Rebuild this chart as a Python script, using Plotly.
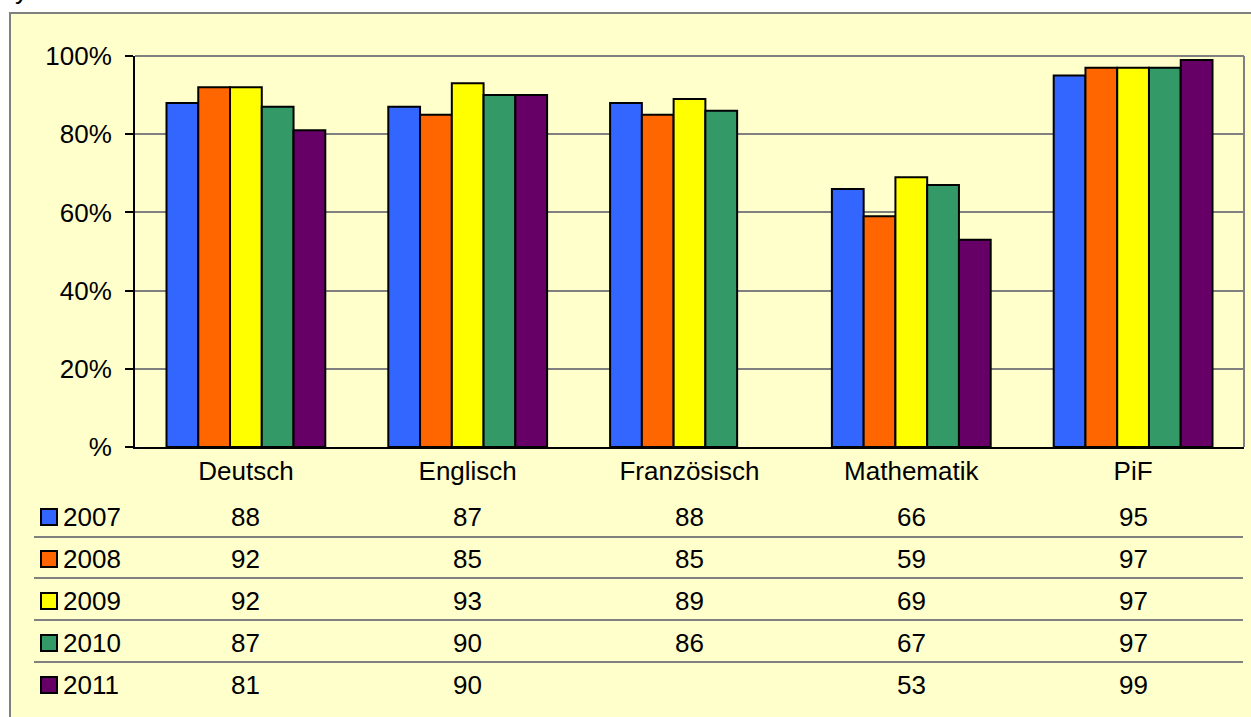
import plotly.graph_objects as go

# Pass rates per subject and year (percent)
categories = ["Deutsch", "Englisch", "Französisch", "Mathematik", "PiF"]
years = ["2007", "2008", "2009", "2010", "2011"]
v2007 = [88, 87, 88, 66, 95]
v2008 = [92, 85, 85, 59, 97]
v2009 = [92, 93, 89, 69, 97]
v2010 = [87, 90, 86, 67, 97]
v2011 = [81, 90, None, 53, 99]
series = [v2007, v2008, v2009, v2010, v2011]
colors = ["#3366FF", "#FF6600", "#FFFF00", "#339966", "#660066"]
y_ticks = [0, 20, 40, 60, 80, 100]
y_ticklabels = ["%", "20%", "40%", "60%", "80%", "100%"]

W, H = 1251, 717
L, R, T, B = 135, 1244, 56, 447  # plot area in pixels
FONT = "Liberation Sans, Arial, sans-serif"
FS = 26


def px_x(p):
    return (p - L) / (R - L)


def px_y(p):
    return (B - p) / (B - T)


fig = go.Figure()
for name, vals, col in zip(years, series, colors):
    fig.add_trace(go.Bar(
        x=categories, y=vals, name=name,
        marker=dict(color=col, line=dict(color="black", width=2)),
        showlegend=False,
    ))

shapes = []
# outer chart frame
shapes.append(dict(type="rect", xref="paper", yref="paper", layer="below",
                   x0=px_x(10), x1=px_x(1265), y0=px_y(730), y1=px_y(13),
                   fillcolor="#FFFFCC", line=dict(color="#808080", width=2)))
# grey top / right border of plot area
shapes.append(dict(type="line", xref="paper", yref="paper", x0=0, x1=1, y0=1, y1=1,
                   line=dict(color="#808080", width=2)))
shapes.append(dict(type="line", xref="paper", yref="paper", x0=1, x1=1, y0=0, y1=1,
                   line=dict(color="#808080", width=2)))

annotations = []
row_centers = [517, 559, 601, 643, 685]
row_lines = [537, 578, 620, 662]
for yl in row_lines:
    shapes.append(dict(type="line", xref="paper", yref="paper",
                       x0=px_x(34), x1=px_x(1243), y0=px_y(yl), y1=px_y(yl),
                       line=dict(color="#808080", width=2)))

for yc, name, vals, col in zip(row_centers, years, series, colors):
    # legend key
    shapes.append(dict(type="rect", xref="paper", yref="paper",
                       x0=px_x(41), x1=px_x(57), y0=px_y(yc + 8), y1=px_y(yc - 8),
                       fillcolor=col, line=dict(color="black", width=2)))
    annotations.append(dict(text=name, xref="paper", yref="paper",
                            x=px_x(61), y=px_y(yc), xanchor="left", yanchor="middle",
                            showarrow=False, font=dict(family=FONT, size=FS, color="black")))
    for cat, v in zip(categories, vals):
        if v is None:
            continue
        annotations.append(dict(text=str(v), xref="x", yref="paper",
                                x=cat, y=px_y(yc), xanchor="center", yanchor="middle",
                                showarrow=False, font=dict(family=FONT, size=FS, color="black")))

# clipped title glyph at the top edge
annotations.append(dict(text="y", xref="paper", yref="paper", x=px_x(22), y=px_y(-10),
                        xanchor="center", yanchor="middle", showarrow=False,
                        font=dict(family=FONT, size=FS, color="black")))

fig.update_layout(
    width=W, height=H,
    margin=dict(l=L, r=W - R, t=T, b=H - B, pad=0),
    paper_bgcolor="white", plot_bgcolor="#CCFFCC",
    barmode="group", bargap=0.284, bargroupgap=0,
    font=dict(family=FONT, size=FS, color="black"),
    shapes=shapes, annotations=annotations,
    xaxis=dict(showline=True, linecolor="black", linewidth=2, showgrid=False,
               ticks="", ticklabelstandoff=0, range=[-0.5, 4.5],
               tickfont=dict(family=FONT, size=FS, color="black"), fixedrange=True),
    yaxis=dict(range=[0, 100], tickvals=y_ticks, ticktext=y_ticklabels,
               showline=True, linecolor="black", linewidth=2,
               ticks="outside", ticklen=8, tickwidth=2, tickcolor="black",
               showgrid=True, gridcolor="#808080", gridwidth=2, zeroline=False,
               ticklabelstandoff=8,
               tickfont=dict(family=FONT, size=FS, color="black"), fixedrange=True),
)

fig.write_html("out.html")
